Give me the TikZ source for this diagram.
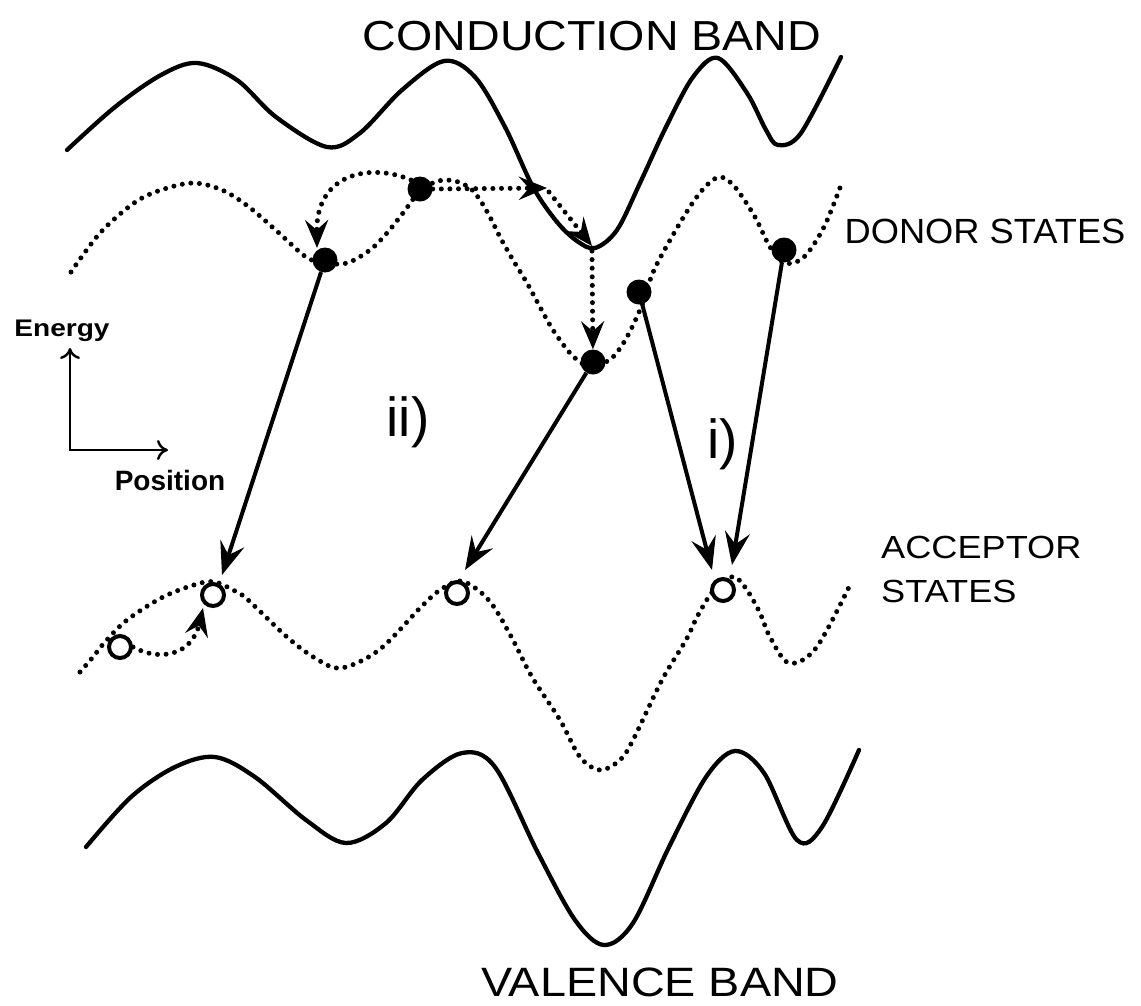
\documentclass[tikz,border=0pt]{standalone}
\usepackage{fontspec}
\usepackage{graphicx}
\setmainfont{Liberation Sans}
\usetikzlibrary{arrows.meta}
\begin{document}
\begin{tikzpicture}[x=1pt,y=-1pt,
  band/.style={line width=4.3pt, line cap=round, line join=round},
  dotline/.style={line width=5pt, line cap=round, dash pattern=on 0pt off 8.6pt},
  electron/.style={circle, fill=black, inner sep=0pt, minimum size=25pt},
  hole/.style={circle, draw=black, fill=white, line width=4pt, inner sep=0pt, minimum size=22pt},
  trans/.style={line width=4pt, -{Stealth[length=33pt,width=25pt,inset=12pt]}},
  hop/.style={dotline, -{Stealth[length=28pt,width=23pt,inset=10pt]}},
  axis/.style={line width=2.4pt},
  lbl/.style={inner sep=0pt, anchor=base}]
\useasboundingbox (0,0) rectangle (1141,1005);

% conduction band
\draw[band] plot[smooth, tension=0.55] coordinates {(67,150) (115,107) (161,75) (197,63) (237,80) (276,117) (327,147) (360,133) (402,90) (444,61) (475,77) (505,127) (533,187) (557,222) (577,241) (595,248) (617,230) (640,183) (666,127) (693,77) (718,58) (747,93) (766,130) (778,145) (801,133) (841,57)};

% donor states
\draw[dotline] plot[smooth, tension=0.55] coordinates {(71,272) (100,233) (134,203) (161,190) (193,183) (222,190) (249,207) (279,233) (306,257) (325,263) (347,263) (370,250) (387,233) (403,213) (420,191) (438,181) (455,181) (470,188) (480,200) (490,217) (500,237) (513,260) (527,283) (540,307) (553,330) (570,353) (585,365) (600,364) (613,357) (627,337) (642,305) (655,268) (686,213) (705,187) (720,177) (735,187) (755,217) (770,247) (785,263) (804,257) (824,227) (841,185)};

% acceptor states
\draw[dotline] plot[smooth, tension=0.55] coordinates {(80,672) (93,657) (105,642) (127,620) (163,597) (197,584) (215,582) (233,590) (247,599) (287,637) (315,658) (341,668) (379,650) (421,607) (440,590) (460,581) (478,590) (494,607) (513,640) (532,677) (560,720) (580,757) (600,770) (620,760) (633,740) (662,680) (686,640) (697,617) (710,595) (722,582) (735,577) (747,590) (760,613) (770,637) (789,663) (816,648) (850,585)};

% valence band
\draw[band] plot[smooth, tension=0.55] coordinates {(86,847) (131,797) (175,767) (215,757) (255,777) (306,820) (346,843) (386,823) (422,780) (462,753) (495,767) (538,853) (575,920) (604,945) (633,923) (669,847) (706,777) (735,751) (764,773) (797,840) (822,827) (859,750)};

% holes
\node[hole] (a0) at (120,647) {};
\node[hole] (a1) at (213,595) {};
\node[hole] (a2) at (457,593) {};
\node[hole] (a3) at (723,590) {};

% electrons
\node[electron] (d1) at (325,260) {};
\node[electron] (n1) at (420,189) {};
\node[electron] (d3) at (593,362) {};
\node[electron] (d4) at (639,292) {};
\node[electron] (d5) at (784,250) {};

% auxiliary points
\coordinate (c1) at (547,188);
\coordinate (c2) at (592,246);
\coordinate (t1) at (317,248);
\coordinate (t2) at (203,608);

% hopping (dotted) arrows
\draw[hop] (n1.north west) .. controls (372,163) and (316,172) .. (t1);
\draw[hop] (n1.east) -- (c1);
\draw[hop] ([xshift=2pt,yshift=-4pt]c1) -- (c2);
\draw[hop] ([yshift=-5pt]c2) -- (d3);
\draw[hop] (a0.east) .. controls (160,662) and (192,655) .. (t2);

% radiative transitions
\draw[trans] (d1) -- ([xshift=9pt,yshift=7pt]a1.north);
\draw[trans] (d3) -- ([xshift=8pt,yshift=10pt]a2.north);
\draw[trans] (d4) -- ([xshift=-11pt,yshift=7pt]a3.north);
\draw[trans] (d5) -- ([xshift=9pt,yshift=12pt]a3.north);

% axes
\coordinate (o) at (70,450);
\coordinate (ey) at (70,348);
\coordinate (px) at (168,450);
\draw[axis, {To[length=11pt,width=20pt]}-{To[length=11pt,width=20pt]}] (ey) -- (o) -- (px);

% labels
\node[lbl] (cb) at (592,50) {\fontsize{42}{42}\selectfont\scalebox{1.11}[1]{CONDUCTION BAND}};
\node[lbl] (vb) at (660,996) {\fontsize{41}{41}\selectfont\scalebox{1.14}[1]{VALENCE BAND}};
\node[lbl] (ds) at (985,243) {\fontsize{35}{35}\selectfont\scalebox{1.036}[1]{DONOR STATES}};
\node[lbl, anchor=base west] (as1) at (881,558) {\fontsize{32}{32}\selectfont\scalebox{1.13}[1]{ACCEPTOR}};
\node[lbl, anchor=base west] (as2) at (881,602) {\fontsize{32}{32}\selectfont\scalebox{1.13}[1]{STATES}};
\node[lbl] (en) at (62,336) {\fontsize{24}{24}\selectfont\bfseries\scalebox{1.17}[1]{Energy}};
\node[lbl] (po) at (170,490) {\fontsize{28}{28}\selectfont\bfseries Position};
\node[lbl] (l2) at (408,436) {\fontsize{55}{55}\selectfont ii)};
\node[lbl] (l1) at (723,458) {\fontsize{55}{55}\selectfont i)};
\end{tikzpicture}
\end{document}
